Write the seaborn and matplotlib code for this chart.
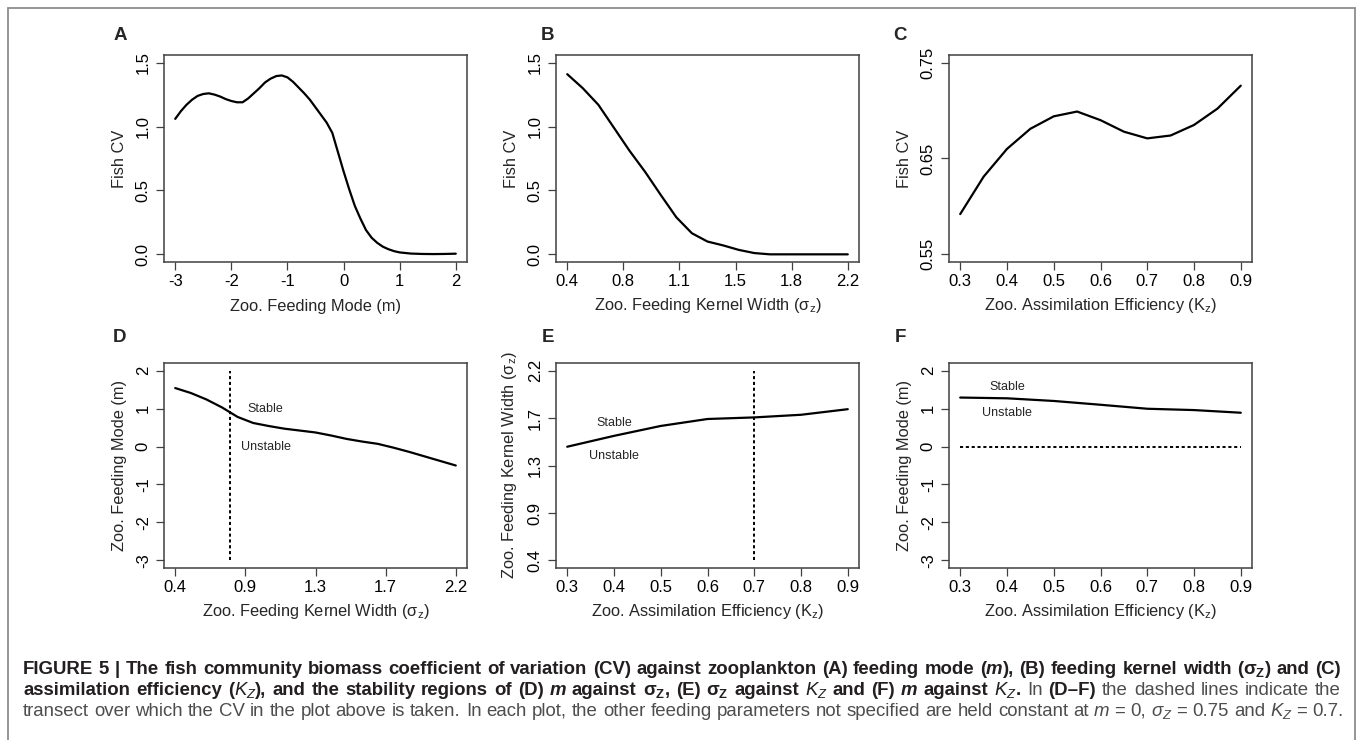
import numpy as np
import pandas as pd
import matplotlib
matplotlib.use('Agg')
import matplotlib.pyplot as plt
import seaborn as sns
from matplotlib.patches import Rectangle

# panel A: fish CV against feeding mode m
mode_x = [-3.0, -2.9, -2.8, -2.7, -2.6, -2.5, -2.4, -2.3, -2.2, -2.1, -2.0,
          -1.9, -1.8, -1.7, -1.6, -1.5, -1.4, -1.3, -1.2, -1.1, -1.0,
          -0.9, -0.8, -0.7, -0.6, -0.5, -0.4, -0.3, -0.2, -0.1, 0.0,
          0.1, 0.2, 0.3, 0.4, 0.5, 0.6, 0.7, 0.8, 0.9, 1.0,
          1.2, 1.4, 1.6, 1.8, 2.0]
mode_cv = [1.06, 1.12, 1.17, 1.21, 1.24, 1.255, 1.26, 1.25, 1.235, 1.215, 1.20,
           1.19, 1.19, 1.22, 1.26, 1.30, 1.345, 1.375, 1.395, 1.40, 1.385,
           1.35, 1.305, 1.26, 1.21, 1.15, 1.09, 1.03, 0.95, 0.80, 0.65,
           0.51, 0.38, 0.28, 0.19, 0.13, 0.09, 0.06, 0.04, 0.025, 0.015,
           0.006, 0.003, 0.002, 0.003, 0.005]

# panel B: fish CV against kernel width sigma_z
width_x = [0.4, 0.5, 0.6, 0.7, 0.8, 0.9, 1.0, 1.1, 1.2, 1.3, 1.4, 1.5,
           1.6, 1.7, 1.8, 1.9, 2.0, 2.1, 2.2]
width_cv = [1.41, 1.30, 1.17, 0.99, 0.81, 0.645, 0.465, 0.29, 0.165, 0.10,
            0.07, 0.035, 0.01, 0.0, 0.0, 0.0, 0.0, 0.0, 0.0]

# panel C: fish CV against assimilation efficiency K_z
assim_x = [0.3, 0.35, 0.4, 0.45, 0.5, 0.55, 0.6, 0.65, 0.7, 0.75, 0.8, 0.85, 0.9]
assim_cv = [0.592, 0.631, 0.660, 0.681, 0.694, 0.699, 0.690, 0.678, 0.671,
            0.674, 0.685, 0.702, 0.726]

# panel D: stability boundary, m against sigma_z
d_x = [0.4, 0.5, 0.6, 0.7, 0.8, 0.9, 1.0, 1.1, 1.2, 1.3, 1.4, 1.5, 1.6,
       1.7, 1.8, 1.9, 2.0, 2.1, 2.2]
d_m = [1.54, 1.41, 1.24, 1.03, 0.78, 0.62, 0.54, 0.47, 0.42, 0.37, 0.29,
       0.20, 0.13, 0.07, -0.03, -0.14, -0.26, -0.38, -0.50]

# panel E: stability boundary, sigma_z against K_z
e_x = [0.3, 0.4, 0.5, 0.6, 0.7, 0.8, 0.9]
e_sigma = [1.478, 1.581, 1.675, 1.741, 1.756, 1.781, 1.834]

# panel F: stability boundary, m against K_z
f_x = [0.3, 0.4, 0.5, 0.6, 0.7, 0.8, 0.9]
f_m = [1.29, 1.27, 1.20, 1.10, 0.995, 0.96, 0.89]

# transects (held constant values)
sigma_const = 0.75
k_const = 0.7
m_const = 0.0

# tick positions / labels
ticks_mode = [-3, -2, -1, 0, 1, 2]
ticks_cv = [0.0, 0.5, 1.0, 1.5]
ticks_cv_lab = ["0.0", "0.5", "1.0", "1.5"]
ticks_width_b = [0.4, 0.76, 1.12, 1.48, 1.84, 2.2]
ticks_width_b_lab = ["0.4", "0.8", "1.1", "1.5", "1.8", "2.2"]
ticks_k = [0.3, 0.4, 0.5, 0.6, 0.7, 0.8, 0.9]
ticks_cv_c = [0.55, 0.65, 0.75]
ticks_width5 = [0.4, 0.85, 1.3, 1.75, 2.2]
ticks_width5_lab = ["0.4", "0.9", "1.3", "1.7", "2.2"]
ticks_m = [-3, -2, -1, 0, 1, 2]

sns.set_style("ticks")
plt.rcParams['font.family'] = ['Liberation Sans', 'DejaVu Sans']
plt.rcParams['mathtext.fontset'] = 'custom'
plt.rcParams['mathtext.rm'] = 'Liberation Sans'
plt.rcParams['mathtext.it'] = 'Liberation Sans:italic'
plt.rcParams['mathtext.bf'] = 'Liberation Sans:bold'
plt.rcParams['mathtext.bfit'] = 'Liberation Sans:bold:italic'

W, H = 1357, 740
fig = plt.figure(figsize=(W / 100, H / 100), dpi=100)
fig.patch.set_facecolor("white")

box_col = "#404040"
tick_size = 12
lab_size = 11.8
lab_x = "Zoo. Feeding Mode (m)"
lab_sig = r"Zoo. Feeding Kernel Width ($\mathrm{\sigma_z}$)"
lab_k = r"Zoo. Assimilation Efficiency ($\mathrm{K_z}$)"


def r_pad(lo, hi):
    d = (hi - lo) * 0.04
    return lo - d, hi + d


def make_ax(left, top, bottom):
    ax = fig.add_axes([left / W, 1 - bottom / H, 303 / W, (bottom - top) / H])
    for s in ax.spines.values():
        s.set_color(box_col)
        s.set_linewidth(1.1)
    ax.tick_params(axis='both', direction='out', length=5.5, width=0.9,
                   color=box_col, labelsize=tick_size, labelcolor="black")
    ax.tick_params(axis='x', pad=3)
    ax.tick_params(axis='y', pad=4)
    return ax


def finish(ax, xt, xl, yt, yl, xlim, ylim, xlabel, ylabel, xpad=5.5):
    ax.set_xticks(xt)
    ax.set_xticklabels(xl)
    ax.set_yticks(yt)
    ax.set_yticklabels(yl, rotation=90, va="center")
    ax.set_xlim(*r_pad(*xlim))
    ax.set_ylim(*r_pad(*ylim))
    ax.set_xlabel(xlabel, fontsize=lab_size, labelpad=xpad)
    ax.set_ylabel(ylabel, fontsize=lab_size, labelpad=6)


col_left = [164, 556, 949]
row1 = (55, 262)
row2 = (363, 568)

# A
ax = make_ax(col_left[0], *row1)
sns.lineplot(data=pd.DataFrame({"x": mode_x, "y": mode_cv}), x="x", y="y",
             ax=ax, color="black", linewidth=1.6, sort=False)
finish(ax, ticks_mode, [str(v) for v in ticks_mode], ticks_cv, ticks_cv_lab,
       (-3, 2), (0, 1.5), lab_x, "Fish CV", xpad=7)

# B
ax = make_ax(col_left[1], *row1)
sns.lineplot(data=pd.DataFrame({"x": width_x, "y": width_cv}), x="x", y="y",
             ax=ax, color="black", linewidth=1.6, sort=False)
finish(ax, ticks_width_b, ticks_width_b_lab, ticks_cv, ticks_cv_lab,
       (0.4, 2.2), (0, 1.5), lab_sig, "Fish CV")

# C
ax = make_ax(col_left[2], *row1)
sns.lineplot(data=pd.DataFrame({"x": assim_x, "y": assim_cv}), x="x", y="y",
             ax=ax, color="black", linewidth=1.6, sort=False)
finish(ax, ticks_k, [f"{v:.1f}" for v in ticks_k], ticks_cv_c,
       [f"{v:.2f}" for v in ticks_cv_c], (0.3, 0.9), (0.55, 0.75), lab_k, "Fish CV")

dot = (0, (1.6, 1.4))
txt_kw = dict(fontsize=9, ha="center", va="center")

# D
ax = make_ax(col_left[0], *row2)
sns.lineplot(data=pd.DataFrame({"x": d_x, "y": d_m}), x="x", y="y",
             ax=ax, color="black", linewidth=1.6, sort=False)
ax.plot([sigma_const, sigma_const], [-3, 2], color="black", lw=1.4, ls=dot)
ax.text(0.98, 1.0, "Stable", **txt_kw)
ax.text(0.98, 0.0, "Unstable", **txt_kw)
finish(ax, ticks_width5, ticks_width5_lab, ticks_m, [str(v) for v in ticks_m],
       (0.4, 2.2), (-3, 2), lab_sig, "Zoo. Feeding Mode (m)")

# E
ax = make_ax(col_left[1], *row2)
sns.lineplot(data=pd.DataFrame({"x": e_x, "y": e_sigma}), x="x", y="y",
             ax=ax, color="black", linewidth=1.6, sort=False)
ax.plot([k_const, k_const], [0.4, 2.2], color="black", lw=1.4, ls=dot)
ax.text(0.4, 1.70, "Stable", **txt_kw)
ax.text(0.4, 1.39, "Unstable", **txt_kw)
finish(ax, ticks_k, [f"{v:.1f}" for v in ticks_k], ticks_width5, ticks_width5_lab,
       (0.3, 0.9), (0.4, 2.2), lab_k, lab_sig)

# F
ax = make_ax(col_left[2], *row2)
sns.lineplot(data=pd.DataFrame({"x": f_x, "y": f_m}), x="x", y="y",
             ax=ax, color="black", linewidth=1.6, sort=False)
ax.plot([0.3, 0.9], [m_const, m_const], color="black", lw=1.4, ls=dot)
ax.text(0.4, 1.58, "Stable", **txt_kw)
ax.text(0.4, 0.87, "Unstable", **txt_kw)
finish(ax, ticks_k, [f"{v:.1f}" for v in ticks_k], ticks_m, [str(v) for v in ticks_m],
       (0.3, 0.9), (-3, 2), lab_k, "Zoo. Feeding Mode (m)")

# panel letters
for letter, px, py in [("A", 120, 36), ("B", 548, 36), ("C", 900, 36),
                       ("D", 120, 338), ("E", 548, 338), ("F", 900, 338)]:
    fig.text(px / W, 1 - py / H, letter, fontsize=13.5, fontweight="bold",
             ha="center", va="center")

# outer frame
fig.patches.append(Rectangle((8 / W, -0.02), (1355 - 8) / W, (H - 8) / H + 0.02,
                             transform=fig.transFigure, fill=False,
                             edgecolor="#8c8c8c", linewidth=1.3))

# caption built from styled pieces
B_COL = "#231f20"
R_COL = "#4d4d4d"
sz = r"$\mathbf{\sigma_Z}$"
kz = r"$\mathbf{\mathit{K_Z}}$"
sz_r = r"$\sigma_Z$"
kz_r = r"$K_Z$"
lines = [
    [("FIGURE 5 | The fish community biomass coefficient of variation (CV) against zooplankton (A) feeding mode (", "b"),
     ("m", "bi"), ("), (B) feeding kernel width (", "b"), (sz, "b"), (") and (C)", "b")],
    [("assimilation efficiency (", "b"), (kz, "b"), ("), and the stability regions of (D) ", "b"),
     ("m", "bi"), (" against ", "b"), (sz, "b"), (", (E) ", "b"), (sz, "b"), (" against ", "b"),
     (kz, "b"), (" and (F) ", "b"), ("m", "bi"), (" against ", "b"), (kz, "b"), (".", "b"),
     (" In ", "r"), ("(D\u2013F)", "b"), (" the dashed lines indicate the", "r")],
    [("transect over which the CV in the plot above is taken. In each plot, the other feeding parameters not specified are held constant at ", "r"),
     ("m", "ri"), (" = 0, ", "r"), (sz_r, "r"), (" = 0.75 and ", "r"), (kz_r, "r"), (" = 0.7.", "r")],
]

renderer = fig.canvas.get_renderer()


def style_kw(st, size):
    return dict(fontsize=size,
                fontweight="bold" if "b" in st else "normal",
                fontstyle="italic" if "i" in st else "normal",
                color=B_COL if "b" in st else R_COL)


def seg_width(s, kw):
    t = fig.text(0, 0, "|" + s + "|", **kw)
    w1 = t.get_window_extent(renderer).width
    t.set_text("||")
    w0 = t.get_window_extent(renderer).width
    t.remove()
    return w1 - w0


def tokenize(segs):
    toks = []
    pending = False
    for s, st in segs:
        if s.startswith("$"):
            toks.append((s, st, pending))
            pending = False
            continue
        for j, p in enumerate(s.split(" ")):
            if j > 0:
                pending = True
            if p:
                toks.append((p, st, pending))
                pending = False
    return toks


def line_layout(segs, size):
    toks = tokenize(segs)
    words = [seg_width(p, style_kw(st, size)) for p, st, _ in toks]
    spaces = [seg_width(" ", style_kw(st, size)) if sp else 0.0 for _, st, sp in toks]
    return toks, words, spaces


target = 1318
base = 11.0
_, w0, s0 = line_layout(lines[0], base)
size = base * target / (sum(w0) + sum(s0))

x0 = 23
for i, (segs, yb) in enumerate(zip(lines, [674, 695, 716])):
    toks, words, spaces = line_layout(segs, size)
    n_gaps = sum(1 for _, _, sp in toks if sp)
    extra = 0.0
    if i < 2 and n_gaps:
        extra = (target - sum(words) - sum(spaces)) / n_gaps
    x = x0
    for (p, st, sp), w, s in zip(toks, words, spaces):
        if sp:
            x += s + extra
        fig.text(x / W, 1 - yb / H, p, ha="left", va="baseline", **style_kw(st, size))
        x += w

fig.savefig("out.png", dpi=100, facecolor="white")
